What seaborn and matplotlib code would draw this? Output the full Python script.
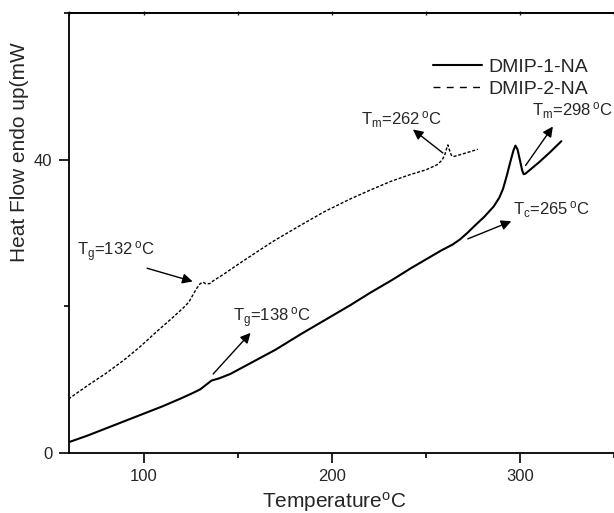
import matplotlib
matplotlib.use("Agg")
import matplotlib.pyplot as plt
from matplotlib.lines import Line2D
import seaborn as sns
import pandas as pd

# ---- data ----
temp_1 = [60, 70, 80, 90, 100, 110, 120, 126, 130, 133, 136, 140, 146, 154, 162, 170, 184, 198,
          210, 220, 232, 242, 252, 258, 264, 268, 272, 276, 281, 286, 289, 291, 293, 295, 296.5,
          297.6, 298.7, 300, 301.2, 302, 303, 310, 316, 322]
heat_1 = [1.5, 2.4, 3.4, 4.4, 5.4, 6.4, 7.5, 8.2, 8.7, 9.3, 9.9, 10.2, 10.8, 11.9, 13.0, 14.1, 16.3, 18.4,
          20.2, 21.8, 23.6, 25.2, 26.7, 27.6, 28.4, 29.1, 30.0, 31.0, 32.2, 33.6, 34.8, 36.0, 37.8, 39.8, 41.2,
          41.9, 41.4, 39.9, 38.5, 38.0, 38.1, 39.6, 41.0, 42.5]

temp_2 = [60, 70, 80, 90, 98, 107, 115, 121, 124, 126, 128, 130, 131.5, 133, 135, 137, 142, 150, 160,
          169, 183, 196, 209.5, 220, 231, 241, 250, 256, 258.5, 260, 261, 261.7, 262.5, 263.5, 264.5,
          266, 270, 277.6]
heat_2 = [7.4, 9.2, 10.9, 12.8, 14.5, 16.6, 18.4, 19.8, 20.6, 21.5, 22.4, 23.1, 23.3, 23.1, 23.1, 23.5,
          24.3, 25.7, 27.4, 28.9, 31.0, 32.9, 34.6, 35.8, 37.0, 37.9, 38.6, 39.3, 39.9, 40.6, 41.5, 42.0,
          41.3, 40.6, 40.4, 40.5, 40.8, 41.4]

series_names = ["DMIP-1-NA", "DMIP-2-NA"]

x_major = [100, 200, 300]
x_minor = [150, 250, 350]
y_major = [0, 40]
y_minor = [20, 60]

# annotations: (text, text position, arrow tail, arrow head) in data units
annotations = [
    (r"T$_{\rm g}$=132$\,^{\rm o}$C", (64.4, 26.9), (101.8, 25.2), (126.0, 23.4)),
    (r"T$_{\rm g}$=138$\,^{\rm o}$C", (147.5, 17.9), (136.9, 10.8), (156.8, 16.4)),
    (r"T$_{\rm m}$=262$\,^{\rm o}$C", (215.7, 44.8), (259.0, 40.9), (243.1, 44.1)),
    (r"T$_{\rm m}$=298$\,^{\rm o}$C", (306.5, 46.0), (303.0, 39.2), (317.5, 44.5)),
    (r"T$_{\rm c}$=265$\,^{\rm o}$C", (296.2, 32.5), (272.3, 29.2), (295.4, 31.6)),
]

# ---- style ----
sns.set_style("ticks")
plt.rcParams["font.family"] = ["Liberation Sans", "DejaVu Sans"]
plt.rcParams["mathtext.fontset"] = "custom"
plt.rcParams["mathtext.rm"] = "Liberation Sans"
plt.rcParams["mathtext.it"] = "Liberation Sans:italic"
plt.rcParams["mathtext.bf"] = "Liberation Sans:bold"

fig = plt.figure(figsize=(6.14, 5.13), dpi=100)
ax = fig.add_axes([68.5 / 614, (513 - 453.3) / 513, (614 - 68.5) / 614, 440.6 / 513])

df1 = pd.DataFrame({"T": temp_1, "H": heat_1})
df2 = pd.DataFrame({"T": temp_2, "H": heat_2})
sns.lineplot(data=df1, x="T", y="H", ax=ax, color="black", lw=1.5, estimator=None)
sns.lineplot(data=df2, x="T", y="H", ax=ax, color="black", lw=1.0, estimator=None,
             linestyle=(0, (2.2, 1.3)))

ax.set_xlim(60, 349.7)
ax.set_ylim(0, 60)
ax.set_xticks(x_major)
ax.set_xticks(x_minor, minor=True)
ax.set_yticks(y_major)
ax.set_yticks(y_minor, minor=True)
ax.tick_params(axis="both", which="major", direction="out", length=7, width=1.2,
               labelsize=12, pad=4.5, color="black")
ax.tick_params(axis="both", which="minor", direction="out", length=3.8, width=1.2, color="black")
for s in ["left", "bottom", "top"]:
    ax.spines[s].set_linewidth(1.3)
    ax.spines[s].set_color("black")
ax.spines["right"].set_visible(False)

sec = ax.secondary_xaxis("top")
sec.set_xticks([60, 100, 150, 200, 250, 300, 350])
sec.tick_params(direction="inout", length=3, width=1, labeltop=False)
sec.spines["top"].set_linewidth(1.3)

ax.set_xlabel(r"Temperature$^{\rm o}$C", fontsize=15)
ax.xaxis.set_label_coords(0.487, -0.083)
ax.set_ylabel("")
fig.text(20 / 614, 1 - 152 / 513, "Heat Flow endo up(mW", rotation=90, fontsize=15,
         ha="center", va="center")

for txt, pos, tail, head in annotations:
    ax.annotate("", xy=head, xytext=tail,
                arrowprops=dict(arrowstyle="-|>", color="black", lw=1.0,
                                mutation_scale=15, shrinkA=0, shrinkB=0))
    ax.text(pos[0], pos[1], txt, fontsize=12, ha="left", va="baseline")

handles = [Line2D([], [], color="black", lw=1.5),
           Line2D([], [], color="black", lw=1.0, linestyle=(0, (5, 4.5)))]
ax.legend(handles, series_names, loc="upper left", bbox_to_anchor=(433 / 614, 1 - 58 / 513),
          bbox_transform=fig.transFigure, frameon=False, fontsize=14, handlelength=2.5,
          handletextpad=0.35, borderpad=0, borderaxespad=0, labelspacing=0.25)

fig.savefig("out.png", dpi=100)
